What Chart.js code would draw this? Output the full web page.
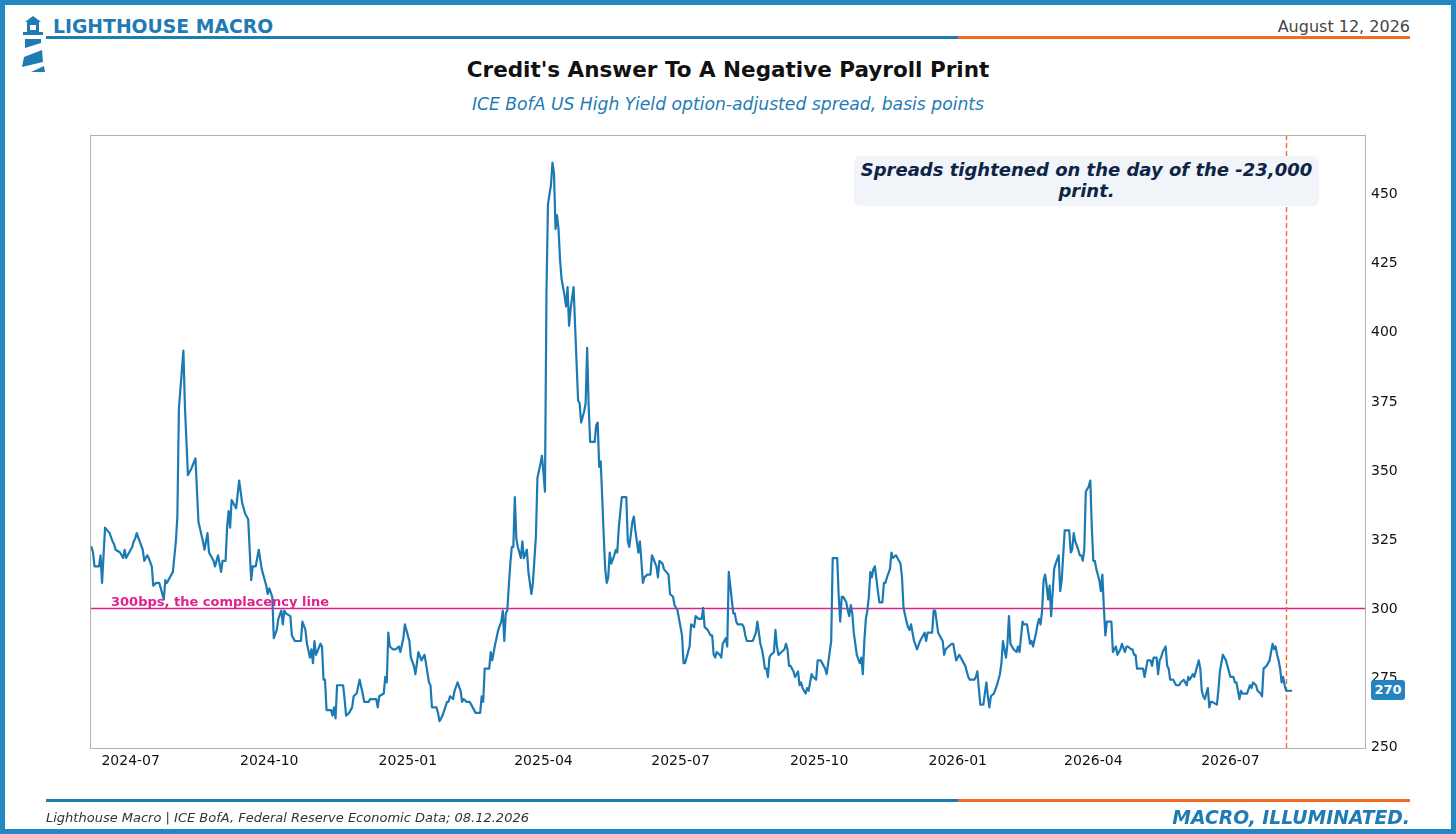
<!DOCTYPE html>
<html>
<head>
<meta charset="utf-8">
<script src="https://cdn.jsdelivr.net/npm/chart.js@4.4.1/dist/chart.umd.min.js"></script>
<style>
  html, body { margin:0; padding:0; background:#fff; }
  body { width:1456px; height:834px; position:relative; overflow:hidden; font-family:"DejaVu Sans", sans-serif; }
  .abs { position:absolute; white-space:nowrap; }
  #frame { position:absolute; left:0; top:0; width:1456px; height:834px; box-sizing:border-box; border:5px solid #2587c1; pointer-events:none; z-index:10; }
  #chart { position:absolute; left:0; top:0; }
  .rule { position:absolute; height:3px; }
</style>
</head>
<body>
<div id="frame"></div>

<svg class="abs" style="left:0;top:0" width="60" height="80" viewBox="0 0 60 80">
  <polygon points="25,22 33,16 41,22" fill="#1f7bb4"/>
  <rect x="27" y="22" width="12" height="11" fill="#1f7bb4"/>
  <rect x="30" y="25" width="6" height="5" fill="#fff"/>
  <rect x="23" y="32" width="20" height="3" fill="#1f7bb4"/>
  <polygon points="25,39 41,39 41,43 25,48" fill="#1f7bb4"/>
  <polygon points="24,57 42,50 43,62 22,67" fill="#1f7bb4"/>
  <polygon points="31,72 44,66 45,72" fill="#1f7bb4"/>
</svg>

<div class="abs" style="left:53px;top:16px;font-size:18.8px;line-height:22px;font-weight:bold;color:#1f7bb4;">LIGHTHOUSE MACRO</div>
<div class="abs" style="right:46px;top:17px;font-size:16px;line-height:20px;color:#444;">August 12, 2026</div>
<div class="rule" style="left:46px;top:36px;width:912px;background:#1f7bb4;"></div>
<div class="rule" style="left:958px;top:36px;width:452px;background:#f26b22;"></div>

<div class="abs" style="left:0;width:1456px;text-align:center;top:57px;font-size:21.5px;line-height:26px;font-weight:bold;color:#111;">Credit's Answer To A Negative Payroll Print</div>
<div class="abs" style="left:0;width:1456px;text-align:center;top:93px;font-size:17.2px;line-height:22px;font-style:italic;color:#1f7bb4;">ICE BofA US High Yield option-adjusted spread, basis points</div>

<canvas id="chart" width="1456" height="834" style="width:1456px;height:834px;"></canvas>

<div class="abs" style="left:854px;top:156px;width:465px;height:50px;box-sizing:border-box;padding-top:3px;background:#f1f4f9;border-radius:6px;text-align:center;font-size:18px;line-height:21px;font-weight:bold;font-style:italic;color:#0e2444;white-space:normal;z-index:5;">Spreads tightened on the day of the -23,000<br>print.</div>

<div id="refLabel" class="abs" style="font-size:13px;line-height:15px;font-weight:bold;color:#e0218a;z-index:5;">300bps, the complacency line</div>
<div id="lastBadge" class="abs" style="font-size:13px;line-height:20px;height:20px;width:34px;text-align:center;font-weight:bold;color:#fff;background:#2384c0;border-radius:3px;z-index:5;"></div>

<div class="rule" style="left:46px;top:799px;width:912px;background:#1f7bb4;"></div>
<div class="rule" style="left:958px;top:799px;width:452px;background:#f26b22;"></div>
<div class="abs" style="left:46px;top:810px;font-size:13px;line-height:16px;font-style:italic;color:#333;">Lighthouse Macro | ICE BofA, Federal Reserve Economic Data; 08.12.2026</div>
<div class="abs" style="right:46px;top:807px;font-size:18.8px;line-height:22px;font-weight:bold;font-style:italic;color:#1f7bb4;">MACRO, ILLUMINATED.</div>

<script>
// ---------- DATA ----------
const DATES = [
'2024-06-04','2024-06-05','2024-06-06','2024-06-07','2024-06-10','2024-06-11','2024-06-12','2024-06-14','2024-06-17','2024-06-19',
'2024-06-20','2024-06-21','2024-06-24','2024-06-26','2024-06-27','2024-06-28','2024-07-01','2024-07-02','2024-07-03','2024-07-04',
'2024-07-05','2024-07-07','2024-07-09','2024-07-10','2024-07-12','2024-07-13','2024-07-15','2024-07-16','2024-07-18','2024-07-20',
'2024-07-21','2024-07-23','2024-07-24','2024-07-25','2024-07-26','2024-07-28','2024-07-29','2024-07-31','2024-08-01','2024-08-02',
'2024-08-05','2024-08-06','2024-08-08','2024-08-10','2024-08-13','2024-08-15','2024-08-18','2024-08-19','2024-08-21','2024-08-22',
'2024-08-25','2024-08-26','2024-08-28','2024-08-30','2024-08-31','2024-09-02','2024-09-03','2024-09-04','2024-09-05','2024-09-06',
'2024-09-09','2024-09-11','2024-09-13','2024-09-15','2024-09-17','2024-09-18','2024-09-19','2024-09-20','2024-09-22','2024-09-24',
'2024-09-26','2024-09-29','2024-09-30','2024-10-01','2024-10-03','2024-10-04','2024-10-06','2024-10-07','2024-10-09','2024-10-10',
'2024-10-11','2024-10-12','2024-10-15','2024-10-16','2024-10-18','2024-10-22','2024-10-23','2024-10-25','2024-10-26','2024-10-28',
'2024-10-29','2024-10-30','2024-10-31','2024-11-01','2024-11-04','2024-11-05','2024-11-06','2024-11-07','2024-11-08','2024-11-11',
'2024-11-12','2024-11-13','2024-11-14','2024-11-15','2024-11-19','2024-11-20','2024-11-21','2024-11-23','2024-11-25','2024-11-26',
'2024-11-28','2024-11-30','2024-12-02','2024-12-03','2024-12-06','2024-12-07','2024-12-11','2024-12-12','2024-12-13','2024-12-16',
'2024-12-17','2024-12-18','2024-12-19','2024-12-20','2024-12-22','2024-12-24','2024-12-26','2024-12-27','2024-12-29','2024-12-30',
'2024-12-31','2025-01-02','2025-01-03','2025-01-05','2025-01-06','2025-01-08','2025-01-10','2025-01-12','2025-01-13','2025-01-15',
'2025-01-16','2025-01-17','2025-01-20','2025-01-21','2025-01-22','2025-01-24','2025-01-27','2025-01-28','2025-01-29','2025-01-31',
'2025-02-01','2025-02-03','2025-02-05','2025-02-06','2025-02-07','2025-02-09','2025-02-11','2025-02-12','2025-02-13','2025-02-15',
'2025-02-18','2025-02-19','2025-02-20','2025-02-21','2025-02-24','2025-02-25','2025-02-26','2025-02-28','2025-03-02','2025-03-04',
'2025-03-05','2025-03-06','2025-03-07','2025-03-08','2025-03-09','2025-03-10','2025-03-11','2025-03-12','2025-03-13','2025-03-14',
'2025-03-15','2025-03-17','2025-03-18','2025-03-19','2025-03-21','2025-03-22','2025-03-24','2025-03-25','2025-03-27','2025-03-28',
'2025-03-30','2025-03-31','2025-04-01','2025-04-02','2025-04-03','2025-04-04','2025-04-06','2025-04-07','2025-04-08','2025-04-09',
'2025-04-10','2025-04-11','2025-04-12','2025-04-13','2025-04-15','2025-04-16','2025-04-17','2025-04-18','2025-04-19','2025-04-20',
'2025-04-21','2025-04-22','2025-04-24','2025-04-25','2025-04-26','2025-04-28','2025-04-29','2025-04-30','2025-05-01','2025-05-02',
'2025-05-05','2025-05-06','2025-05-07','2025-05-08','2025-05-09','2025-05-10','2025-05-11','2025-05-12','2025-05-13','2025-05-14',
'2025-05-15','2025-05-16','2025-05-18','2025-05-19','2025-05-20','2025-05-21','2025-05-23','2025-05-26','2025-05-27','2025-05-28',
'2025-05-30','2025-05-31','2025-06-01','2025-06-03','2025-06-04','2025-06-05','2025-06-06','2025-06-07','2025-06-09','2025-06-11',
'2025-06-12','2025-06-15','2025-06-16','2025-06-17','2025-06-19','2025-06-20','2025-06-23','2025-06-24','2025-06-26','2025-06-27',
'2025-06-29','2025-06-30','2025-07-02','2025-07-03','2025-07-04','2025-07-05','2025-07-07','2025-07-08','2025-07-10','2025-07-11',
'2025-07-13','2025-07-14','2025-07-15','2025-07-16','2025-07-17','2025-07-19','2025-07-20','2025-07-21','2025-07-22','2025-07-23',
'2025-07-24','2025-07-25','2025-07-27','2025-07-28','2025-07-29','2025-07-31','2025-08-01','2025-08-02','2025-08-03','2025-08-04',
'2025-08-05','2025-08-06','2025-08-07','2025-08-08','2025-08-11','2025-08-12','2025-08-13','2025-08-14','2025-08-16','2025-08-18',
'2025-08-20','2025-08-21','2025-08-22','2025-08-23','2025-08-24','2025-08-25','2025-08-26','2025-08-27','2025-08-28','2025-08-29',
'2025-08-30','2025-09-01','2025-09-02','2025-09-03','2025-09-04','2025-09-06','2025-09-08','2025-09-09','2025-09-10','2025-09-11',
'2025-09-12','2025-09-14','2025-09-15','2025-09-17','2025-09-18','2025-09-19','2025-09-20','2025-09-22','2025-09-23','2025-09-24',
'2025-09-26','2025-09-27','2025-09-29','2025-09-30','2025-10-02','2025-10-04','2025-10-05','2025-10-06','2025-10-08','2025-10-09',
'2025-10-10','2025-10-13','2025-10-14','2025-10-15','2025-10-16','2025-10-17','2025-10-19','2025-10-20','2025-10-21','2025-10-22',
'2025-10-23','2025-10-24','2025-10-25','2025-10-26','2025-10-28','2025-10-29','2025-10-30','2025-10-31','2025-11-01','2025-11-02',
'2025-11-03','2025-11-04','2025-11-05','2025-11-06','2025-11-07','2025-11-09','2025-11-10','2025-11-12','2025-11-13','2025-11-14',
'2025-11-15','2025-11-17','2025-11-18','2025-11-19','2025-11-21','2025-11-23','2025-11-24','2025-11-25','2025-11-26','2025-11-28',
'2025-11-29','2025-11-30','2025-12-01','2025-12-02','2025-12-03','2025-12-05','2025-12-07','2025-12-08','2025-12-10','2025-12-11',
'2025-12-12','2025-12-15','2025-12-16','2025-12-17','2025-12-19','2025-12-20','2025-12-22','2025-12-23','2025-12-24','2025-12-26',
'2025-12-28','2025-12-29','2025-12-31','2026-01-02','2026-01-03','2026-01-04','2026-01-06','2026-01-08','2026-01-09','2026-01-12',
'2026-01-13','2026-01-14','2026-01-16','2026-01-18','2026-01-20','2026-01-21','2026-01-22','2026-01-23','2026-01-25','2026-01-27',
'2026-01-29','2026-01-30','2026-01-31','2026-02-02','2026-02-03','2026-02-04','2026-02-05','2026-02-07','2026-02-09','2026-02-10',
'2026-02-11','2026-02-13','2026-02-14','2026-02-16','2026-02-18','2026-02-19','2026-02-20','2026-02-22','2026-02-23','2026-02-24',
'2026-02-25','2026-02-26','2026-02-27','2026-02-28','2026-03-01','2026-03-02','2026-03-03','2026-03-04','2026-03-06','2026-03-07',
'2026-03-09','2026-03-10','2026-03-11','2026-03-13','2026-03-14','2026-03-16','2026-03-17','2026-03-18','2026-03-19','2026-03-20',
'2026-03-22','2026-03-23','2026-03-24','2026-03-25','2026-03-26','2026-03-27','2026-03-29','2026-03-30','2026-03-31','2026-04-01',
'2026-04-02','2026-04-03','2026-04-05','2026-04-06','2026-04-07','2026-04-08','2026-04-09','2026-04-10','2026-04-13','2026-04-14',
'2026-04-16','2026-04-17','2026-04-19','2026-04-20','2026-04-22','2026-04-23','2026-04-24','2026-04-26','2026-04-27','2026-04-28',
'2026-04-29','2026-04-30','2026-05-02','2026-05-04','2026-05-05','2026-05-07','2026-05-09','2026-05-10','2026-05-11','2026-05-13',
'2026-05-14','2026-05-15','2026-05-16','2026-05-17','2026-05-19','2026-05-20','2026-05-21','2026-05-22','2026-05-24','2026-05-26',
'2026-05-28','2026-05-29','2026-05-31','2026-06-01','2026-06-02','2026-06-03','2026-06-04','2026-06-06','2026-06-07','2026-06-08',
'2026-06-10','2026-06-11','2026-06-12','2026-06-13','2026-06-14','2026-06-16','2026-06-17','2026-06-18','2026-06-19','2026-06-22',
'2026-06-23','2026-06-24','2026-06-26','2026-06-27','2026-06-28','2026-06-30','2026-07-01','2026-07-03','2026-07-04','2026-07-05',
'2026-07-07','2026-07-08','2026-07-09','2026-07-12','2026-07-14','2026-07-15','2026-07-16','2026-07-18','2026-07-19','2026-07-21',
'2026-07-22','2026-07-23','2026-07-25','2026-07-27','2026-07-28','2026-07-29','2026-07-30','2026-07-31','2026-08-01','2026-08-02',
'2026-08-03','2026-08-04','2026-08-05','2026-08-06','2026-08-07','2026-08-11'
];

const HY_OAS = [
322,322,320,315,315,319,309,329,327,324,
323,321,320,318,321,318,321,322,324,325,
327,324,321,317,319,318,315,308,309,309,
307,303,310,309,310,312,313,324,333,372,
393,373,348,350,354,331,324,321,327,320,
317,315,319,313,317,317,329,335,329,339,
336,346,338,334,332,321,310,315,315,321,
314,308,305,307,304,289,292,296,299,294,
299,298,297,290,288,288,295,292,287,282,
285,280,288,283,287,286,274,274,263,263,
261,264,260,272,272,267,261,262,264,268,
269,274,269,266,266,267,267,264,268,269,
275,273,291,286,285,285,286,284,289,294,
292,288,282,279,276,284,281,283,280,273,
272,264,264,262,259,261,266,266,268,267,
270,273,270,266,267,266,266,265,264,262,
262,268,266,278,278,284,281,287,292,295,
299,288,298,299,308,316,322,322,340,325,
322,318,324,318,321,313,305,309,326,347,
352,355,349,342,414,446,453,461,457,437,
442,437,426,419,413,409,416,402,408,412,
416,402,375,374,367,371,374,394,373,360,
360,366,367,351,353,340,326,314,309,311,
320,316,319,321,320,329,340,340,324,322,
331,333,328,320,324,317,309,311,312,312,
319,315,311,317,316,314,312,305,304,301,
299,296,290,280,280,282,286,294,293,297,
296,296,296,300,293,292,291,290,290,283,
282,284,283,282,287,289,286,313,308,303,
298,298,295,294,294,293,290,288,288,288,
291,295,291,287,285,282,278,278,275,282,
283,284,292,286,283,284,285,287,285,279,
279,277,275,277,272,273,271,269,271,270,
276,275,274,281,281,279,278,276,284,288,
318,318,304,295,304,304,302,299,297,301,
298,291,287,283,280,282,276,288,296,299,
304,313,311,314,315,306,302,302,309,309,
311,314,320,318,319,317,316,311,300,295,
293,292,294,291,288,285,288,289,291,288,
291,291,299,299,291,290,288,283,285,286,
287,287,281,283,282,281,279,275,274,274,
275,277,265,265,273,268,264,268,269,272,
276,280,288,282,287,297,287,285,284,286,
284,295,294,294,287,288,286,291,294,296,
294,299,310,312,308,303,308,297,314,316,
319,306,310,328,328,328,320,321,327,324,
321,319,319,317,321,342,344,346,329,317,
317,314,310,306,312,300,290,295,295,284,
286,283,285,287,284,286,286,285,285,283,
283,278,278,278,275,281,281,279,282,282,
276,281,282,284,286,279,278,274,274,272,
272,273,274,273,272,275,274,276,275,277,
281,278,270,268,267,271,264,266,266,265,
270,277,283,282,281,277,275,275,273,273,
267,270,269,269,272,271,273,272,270,269,
268,278,279,281,284,287,285,286,283,281,
278,273,275,272,270,270
];

const X_TICK_LABELS = ['2024-07','2024-10','2025-01','2025-04','2025-07','2025-10','2026-01','2026-04','2026-07'];
const Y_TICKS = [250, 275, 300, 325, 350, 375, 400, 425, 450];
const X_RANGE = ['2024-06-04', '2026-09-29'];
const Y_RANGE = [249.3, 471];
const COMPLACENCY_LEVEL = 300;
const PRINT_DATE = '2026-08-07';

// ---------- HELPERS ----------
function dayNum(s) {
  const p = s.split('-').map(Number);
  return Date.UTC(p[0], p[1] - 1, p[2] || 1) / 86400000;
}

const FONT = '"DejaVu Sans", sans-serif';
const LINE_BLUE = '#1b79b3';
const MAGENTA = '#e0218a';
const ORANGE = '#f26b22';

const refPlugin = {
  id: 'refs',
  beforeDatasetsDraw(chart) {
    const { ctx, chartArea: a, scales: { x, y } } = chart;
    ctx.save();
    const yp = Math.round(y.getPixelForValue(COMPLACENCY_LEVEL)) + 0.5;
    ctx.strokeStyle = MAGENTA;
    ctx.lineWidth = 1.6;
    ctx.beginPath(); ctx.moveTo(a.left, yp); ctx.lineTo(a.right, yp); ctx.stroke();
    const xp = Math.round(x.getPixelForValue(dayNum(PRINT_DATE))) + 0.5;
    ctx.strokeStyle = ORANGE;
    ctx.lineWidth = 1.4;
    ctx.setLineDash([5, 3]);
    ctx.beginPath(); ctx.moveTo(xp, a.top); ctx.lineTo(xp, a.bottom); ctx.stroke();
    ctx.restore();
  },
  afterDraw(chart) {
    const { ctx, chartArea: a } = chart;
    ctx.save();
    ctx.strokeStyle = '#b3b3b3';
    ctx.lineWidth = 1;
    ctx.strokeRect(Math.round(a.left) + 0.5, Math.round(a.top) + 0.5, Math.round(a.right - a.left) - 1, Math.round(a.bottom - a.top));
    ctx.restore();
  }
};

const chart = new Chart(document.getElementById('chart'), {
  type: 'line',
  data: {
    datasets: [{
      label: 'ICE BofA US High Yield OAS',
      data: DATES.map((d, i) => ({ x: dayNum(d), y: HY_OAS[i] })),
      borderColor: LINE_BLUE,
      borderWidth: 2.2,
      pointRadius: 0,
      tension: 0,
      fill: false,
      borderJoinStyle: 'round'
    }]
  },
  options: {
    responsive: false,
    animation: false,
    layout: { padding: { left: 90, top: 135, right: 30, bottom: 56 } },
    plugins: { legend: { display: false }, tooltip: { enabled: false } },
    scales: {
      x: {
        type: 'linear',
        min: dayNum(X_RANGE[0]),
        max: dayNum(X_RANGE[1]),
        grid: { display: false, drawTicks: false },
        border: { display: false },
        afterBuildTicks: s => { s.ticks = X_TICK_LABELS.map(l => ({ value: dayNum(l + '-01') })); },
        afterFit: s => { s.height = 30; },
        ticks: {
          autoSkip: false, maxRotation: 0, padding: 5, color: '#111',
          font: { family: FONT, size: 14 },
          callback: (v, i) => X_TICK_LABELS[i]
        }
      },
      y: {
        position: 'right',
        min: Y_RANGE[0],
        max: Y_RANGE[1],
        grid: { display: false, drawTicks: false },
        border: { display: false },
        afterBuildTicks: s => { s.ticks = Y_TICKS.map(v => ({ value: v })); },
        afterFit: s => { s.width = 60; },
        ticks: { padding: 5, labelOffset: 1.5, color: '#111', font: { family: FONT, size: 14 }, callback: v => String(v) }
      }
    }
  },
  plugins: [refPlugin]
});

(function placeLabels() {
  const a = chart.chartArea, y = chart.scales.y;
  const lbl = document.getElementById('refLabel');
  lbl.style.left = (a.left + 21) + 'px';
  lbl.style.top = (y.getPixelForValue(COMPLACENCY_LEVEL) - 14) + 'px';
  const last = HY_OAS[HY_OAS.length - 1];
  const badge = document.getElementById('lastBadge');
  badge.textContent = String(Math.round(last));
  badge.style.left = (a.right + 5) + 'px';
  badge.style.top = (y.getPixelForValue(last) - 10.5) + 'px';
})();
</script>
</body>
</html>
